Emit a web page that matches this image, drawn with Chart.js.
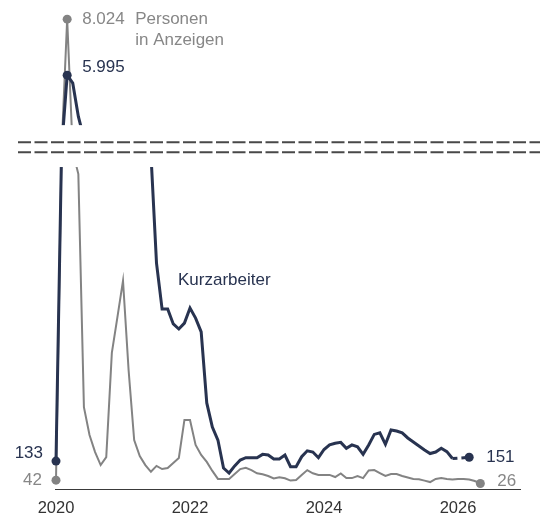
<!DOCTYPE html>
<html>
<head>
<meta charset="utf-8">
<script src="https://cdn.jsdelivr.net/npm/chart.js@4/dist/chart.umd.min.js"></script>
<style>
body{margin:0;background:#fff;}
#wrap{width:540px;height:515px;position:relative;}
</style>
</head>
<body>
<div id="wrap"><canvas id="chart"></canvas></div>
<script>
// Monatswerte in Tausend, Index 0 = erster Monat 2020
var anzeigen = [42, 2600, 8024, 2450, 1500, 390, 257, 176, 114, 152,
  648, 819, 992, 567, 233, 157, 114, 82, 110, 95,
  100, 124, 148, 329, 329, 210, 162, 129, 86, 48,
  48, 48, 71, 95, 101, 90, 75, 70, 62, 50,
  56, 51, 40, 43, 67, 90, 75, 67, 67, 67,
  57, 74, 52, 52, 62, 52, 88, 90, 76, 62,
  71, 71, 62, 55, 48, 46, 40, 33, 48, 52,
  48, 45, 48, 48, 45, 38, 26];
var kurzarbeiter = [133, 2600, 5995, 5705, 4500, 3300, 2600, 2200, 2000, 2000,
  2300, 2400, 2900, 3300, 2800, 2500, 2400, 2300, 1076, 857,
  857, 786, 762, 790, 862, 814, 748, 410, 295, 233,
  100, 76, 110, 138, 149, 149, 149, 165, 162, 143,
  143, 162, 106, 106, 154, 182, 176, 149, 188, 210,
  218, 222, 194, 210, 201, 165, 210, 260, 268, 213,
  281, 276, 267, 243, 224, 205, 186, 169, 176, 194,
  178, 145, null, null, 151];
var letzterFesterWert = 71;   // danach hochgerechnet (gestrichelt)
var jahre = [2020, 2022, 2024, 2026];

// gebrochene Achse
var unterMax = 1543, oberMin = 4183, luecke = 190, oberFaktor = 0.1314;
function achse(v) {
  if (v <= unterMax) return v;
  if (v < oberMin) return unterMax + (v - unterMax) / (oberMin - unterMax) * luecke;
  return unterMax + luecke + (v - oberMin) * oberFaktor;
}
function punkte(arr, von, bis) {
  var out = [];
  for (var i = von; i <= bis; i++) {
    if (arr[i] != null) out.push({x: i, y: achse(arr[i]), v: arr[i]});
  }
  return out;
}
function fmt(v) {
  return String(v).replace(/\B(?=(\d{3})+(?!\d))/g, '.');
}

var navy = '#283350', grau = '#838383', grauText = '#878787';
var schrift = '"Liberation Sans", Arial, sans-serif';

var lastA = anzeigen.length - 1, lastK = kurzarbeiter.length - 1;
var peakA = anzeigen.indexOf(Math.max.apply(null, anzeigen));
var peakK = kurzarbeiter.indexOf(Math.max.apply(null, kurzarbeiter.filter(function(v){return v != null;})));

var beschriftung = {
  id: 'beschriftung',
  afterDatasetsDraw: function(chart) {
    var ctx = chart.ctx, xs = chart.scales.x, ys = chart.scales.y;
    var yo = ys.getPixelForValue(unterMax + luecke), yu = ys.getPixelForValue(unterMax);
    ctx.save();
    ctx.fillStyle = '#fff';
    ctx.fillRect(0, yo, chart.width, yu - yo + 2);
    ctx.strokeStyle = '#484848';
    ctx.lineWidth = 2;
    ctx.setLineDash([13, 3.5]);
    [yo + 17, yo + 27].forEach(function(y) {
      ctx.beginPath(); ctx.moveTo(18, y); ctx.lineTo(chart.width, y); ctx.stroke();
    });
    ctx.setLineDash([]);

    ctx.font = '17px ' + schrift;
    ctx.textBaseline = 'middle';
    function px(i) { return xs.getPixelForValue(i); }
    function py(v) { return ys.getPixelForValue(achse(v)); }

    ctx.textAlign = 'left';
    ctx.fillStyle = grauText;
    ctx.fillText(fmt(anzeigen[peakA]), px(peakA) + 15, py(anzeigen[peakA]));
    ctx.fillText('Personen', px(peakA) + 68, py(anzeigen[peakA]));
    ctx.fillText('in Anzeigen', px(peakA) + 68, py(anzeigen[peakA]) + 21);
    ctx.fillText(fmt(anzeigen[lastA]), px(lastA) + 17, py(anzeigen[lastA]) - 2);
    ctx.fillStyle = navy;
    ctx.fillText(fmt(kurzarbeiter[peakK]), px(peakK) + 15, py(kurzarbeiter[peakK]) - 8);
    ctx.fillText('Kurzarbeiter', 178, 280);
    ctx.fillText(fmt(kurzarbeiter[lastK]), px(lastK) + 17, py(kurzarbeiter[lastK]));

    ctx.textAlign = 'right';
    ctx.fillText(fmt(kurzarbeiter[0]), px(0) - 13, py(kurzarbeiter[0]) - 8);
    ctx.fillStyle = grauText;
    ctx.fillText(fmt(anzeigen[0]), px(0) - 14, py(anzeigen[0]));
    ctx.restore();
  }
};

function dotRadius(idxList) {
  return function(c) { return idxList.indexOf(c.raw.x) >= 0 ? 4.5 : 0; };
}

new Chart(document.getElementById('chart'), {
  type: 'line',
  data: {
    datasets: [{
      label: 'Kurzarbeiter',
      data: punkte(kurzarbeiter, 0, letzterFesterWert),
      borderColor: navy,
      backgroundColor: navy,
      borderWidth: 3,
      pointRadius: dotRadius([0, peakK]),
      pointBorderWidth: 0,
      tension: 0,
      clip: false
    }, {
      label: 'Kurzarbeiter hochgerechnet',
      data: punkte(kurzarbeiter, letzterFesterWert, lastK),
      borderColor: navy,
      backgroundColor: navy,
      borderWidth: 3,
      borderDash: [5, 4],
      pointRadius: dotRadius([lastK]),
      pointBorderWidth: 0,
      spanGaps: true,
      clip: false
    }, {
      label: 'Personen in Anzeigen',
      data: punkte(anzeigen, 0, lastA),
      borderColor: grau,
      backgroundColor: grau,
      borderWidth: 2,
      pointRadius: dotRadius([0, peakA, lastA]),
      pointBorderWidth: 0,
      tension: 0,
      clip: false
    }]
  },
  options: {
    responsive: true,
    maintainAspectRatio: false,
    animation: false,
    layout: {autoPadding: false, padding: {left: 55, right: 20, top: 0, bottom: 0}},
    plugins: {legend: {display: false}, tooltip: {enabled: false}},
    scales: {
      x: {
        type: 'linear',
        min: -0.18,
        max: 83.1,
        grid: {display: false, drawTicks: false},
        border: {display: true, color: '#3a3a3a', width: 1},
        afterBuildTicks: function(s) {
          s.ticks = jahre.map(function(j) { return {value: (j - 2020) * 12}; });
        },
        afterFit: function(s) { s.height = 26; },
        ticks: {
          padding: 10,
          autoSkip: false,
          maxRotation: 0,
          color: '#333',
          font: {family: schrift, size: 16.5},
          callback: function(v) { return String(2020 + v / 12); }
        }
      },
      y: {display: false, min: 0, max: 2329}
    }
  },
  plugins: [beschriftung]
});
</script>
</body>
</html>
